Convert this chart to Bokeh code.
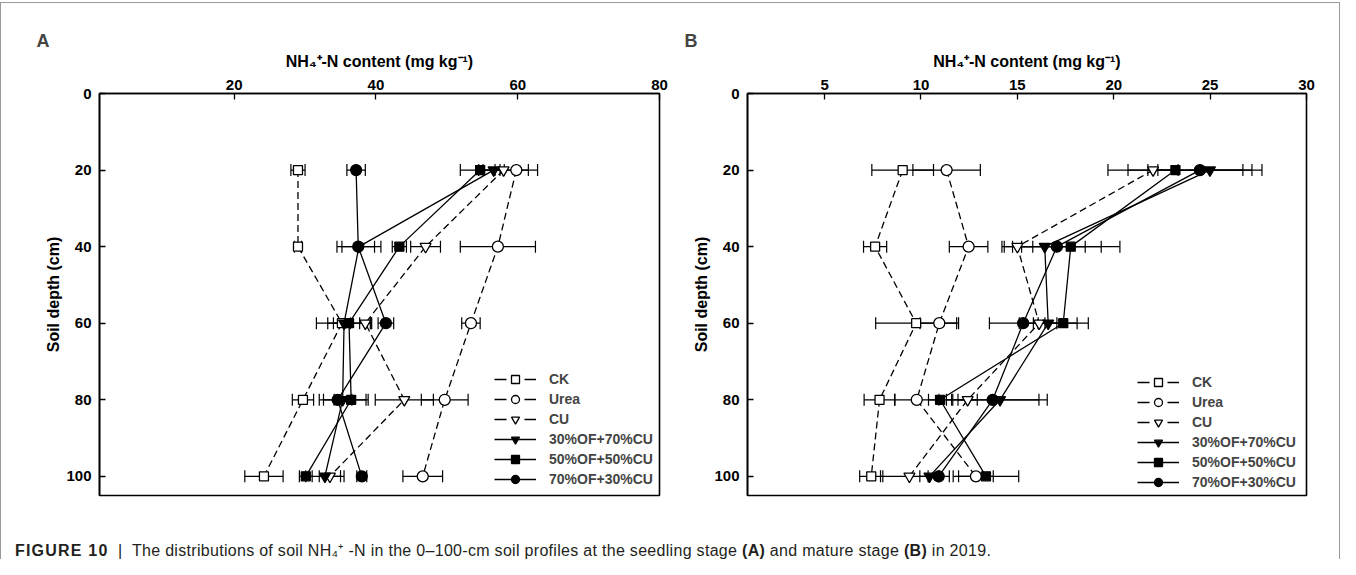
from bokeh.plotting import figure
from bokeh.models import (ColumnDataSource, Range1d, FixedTicker, Whisker, TeeHead,
                          Legend, LegendItem, Div)
from bokeh.layouts import row, column
from bokeh.embed import file_html
from bokeh.resources import INLINE

# ---------------- data ----------------
depths = [20, 40, 60, 80, 100]
series_names = ["CK", "Urea", "CU", "30%OF+70%CU", "50%OF+50%CU", "70%OF+30%CU"]

# Panel A: seedling stage
a_ck = [29.0, 29.0, 35.2, 29.7, 24.2]
a_ck_err = [1.0, 0.5, 1.2, 1.5, 2.7]
a_urea = [59.8, 57.2, 53.4, 49.7, 46.6]
a_urea_err = [3.0, 5.3, 1.3, 3.3, 2.8]
a_cu = [58.0, 47.0, 38.5, 44.0, 33.5]
a_cu_err = [3.5, 2.1, 0.8, 4.1, 1.5]
a_of30 = [56.6, 37.6, 35.5, 35.3, 32.8]
a_of30_err = [1.5, 3.1, 3.9, 3.3, 2.7]
a_of50 = [54.7, 43.3, 36.2, 36.5, 30.1]
a_of50_err = [2.8, 1.0, 3.0, 2.4, 0.9]
a_of70 = [37.2, 37.5, 41.4, 34.6, 38.0]
a_of70_err = [1.3, 2.3, 1.1, 2.0, 0.7]

# Panel B: mature stage
b_ck = [9.05, 7.62, 9.75, 7.85, 7.42]
b_ck_err = [1.6, 0.6, 2.1, 0.8, 0.6]
b_urea = [11.33, 12.47, 10.95, 9.78, 12.85]
b_urea_err = [1.75, 1.0, 1.0, 1.15, 0.9]
b_cu = [22.04, 15.0, 16.13, 12.42, 9.4]
b_cu_err = [1.3, 0.8, 0.3, 0.5, 1.5]
b_of30 = [24.99, 16.42, 16.6, 14.1, 10.44]
b_of30_err = [2.7, 2.1, 1.5, 2.45, 0.5]
b_of50 = [23.2, 17.77, 17.38, 10.99, 13.37]
b_of50_err = [3.5, 2.55, 1.3, 0.6, 1.7]
b_of70 = [24.47, 17.05, 15.3, 13.72, 10.92]
b_of70_err = [2.7, 2.3, 1.75, 2.4, 0.55]

a_ticks = [20, 40, 60, 80]
b_ticks = [5, 10, 15, 20, 25, 30]
depth_ticks = [0, 20, 40, 60, 80, 100]

x_title = "NH\u2084\u207A-N content (mg kg\u207B\u00B9)"
y_title = "Soil depth (cm)"

FONT = "Liberation Sans"
NAN = float("nan")
GRAY = "#9a9a9a"

styles = [
    dict(marker="square", fill="white", dash="7 4", size=9),
    dict(marker="circle", fill="white", dash="7 4", size=11),
    dict(marker="inverted_triangle", fill="white", dash="7 4", size=11),
    dict(marker="inverted_triangle", fill="black", dash="solid", size=11),
    dict(marker="square", fill="black", dash="solid", size=9),
    dict(marker="circle", fill="black", dash="solid", size=11),
]
legend_dash = ["12 18", "12 18", "12 18", "solid", "solid", "solid"]


def make_panel(vals, errs, xmax, xticks, width, bl, br, bt, bb, legend_loc, letter,
               letter_offset):
    p = figure(width=width, height=512, output_backend="svg", toolbar_location=None,
               x_range=Range1d(1, xmax), y_range=Range1d(105, 0),
               x_axis_location="above", min_border_left=bl, min_border_right=br,
               min_border_top=bt, min_border_bottom=bb)
    p.grid.visible = False
    p.outline_line_color = "black"
    p.outline_line_width = 1.6
    p.background_fill_color = "white"
    p.border_fill_color = "white"

    p.title.text = letter
    p.title.align = "left"
    p.title.offset = letter_offset
    p.title.text_font = FONT
    p.title.text_font_style = "bold"
    p.title.text_font_size = "18px"
    p.title.standoff = -3

    xa = p.xaxis[0]
    xa.ticker = FixedTicker(ticks=xticks)
    xa.axis_label = x_title
    ya = p.yaxis[0]
    ya.ticker = FixedTicker(ticks=depth_ticks)
    ya.axis_label = y_title
    for ax in (xa, ya):
        ax.axis_line_width = 1.6
        ax.major_tick_in = 6
        ax.major_tick_out = 0
        ax.major_tick_line_width = 1.3
        ax.minor_tick_line_color = None
        ax.major_label_text_font = FONT
        ax.major_label_text_font_style = "bold"
        ax.major_label_text_font_size = "15px"
        ax.major_label_text_color = "black"
        ax.axis_label_text_font = FONT
        ax.axis_label_text_font_style = "bold"
        ax.axis_label_text_font_size = "16px"
        ax.axis_label_text_color = "black"
    xa.major_label_standoff = 4
    xa.axis_label_standoff = 7
    ya.major_label_standoff = 8
    ya.axis_label_standoff = 1

    for v, e in zip(vals, errs):
        src = ColumnDataSource(dict(
            y=depths,
            lo=[a - b for a, b in zip(v, e)],
            hi=[a + b for a, b in zip(v, e)]))
        p.add_layout(Whisker(source=src, base="y", lower="lo", upper="hi",
                             dimension="width", line_color="black", line_width=1.2,
                             upper_head=TeeHead(size=12, line_color="black", line_width=1.2),
                             lower_head=TeeHead(size=12, line_color="black", line_width=1.2)))
    srcs = []
    for v, st in zip(vals, styles):
        src = ColumnDataSource(dict(x=v, y=depths))
        p.line("x", "y", source=src, line_color="black", line_width=1.3,
               line_dash=st["dash"])
        srcs.append(src)
    items = []
    for name, src, st, ld in zip(series_names, srcs, styles, legend_dash):
        p.scatter("x", "y", source=src, marker=st["marker"], size=st["size"],
                  fill_color=st["fill"], line_color="black", line_width=1.3)
        # key-only glyphs (not drawn in the plot) so the key can use its own dash
        key_src = ColumnDataSource(dict(x=[NAN], y=[NAN]))
        lk = p.line("x", "y", source=key_src, line_color="black", line_width=1.3,
                    line_dash=ld)
        mk = p.scatter("x", "y", source=key_src, marker=st["marker"], size=st["size"],
                       fill_color=st["fill"], line_color="black", line_width=1.3)
        items.append(LegendItem(label=name, renderers=[lk, mk], index=0))

    leg = Legend(items=items, location=legend_loc, border_line_color=None,
                 background_fill_alpha=0, label_text_font=FONT,
                 label_text_font_style="bold", label_text_font_size="14px",
                 glyph_width=42, glyph_height=20, label_height=20, label_standoff=13,
                 spacing=0, padding=0, margin=0)
    p.add_layout(leg)
    return p


pa = make_panel([a_ck, a_urea, a_cu, a_of30, a_of50, a_of70],
                [a_ck_err, a_urea_err, a_cu_err, a_of30_err, a_of50_err, a_of70_err],
                80, a_ticks, 682, 98, 24, 88, 20, (395, 6), "A", -63)
pb = make_panel([b_ck, b_urea, b_cu, b_of30, b_of50, b_of70],
                [b_ck_err, b_urea_err, b_cu_err, b_of30_err, b_of50_err, b_of70_err],
                30, b_ticks, 656, 64, 33, 90, 18, (390, 3), "B", -63)


def vbar(h):
    return Div(width=1, height=h, margin=0, styles={"background-color": GRAY})


top_line = Div(width=1340, height=1, margin=(2, 0, 0, 0),
               styles={"background-color": GRAY})

caption = Div(
    text=('<div style="padding-top:28px;padding-left:14px">'
          '<span style="font-weight:bold;letter-spacing:1.2px">FIGURE 10</span>'
          '&nbsp;&nbsp;|&nbsp;&nbsp;The distributions of soil NH\u2084\u207A -N in the '
          '0\u2013100-cm soil profiles at the seedling stage <b>(A)</b> and mature stage '
          '<b>(B)</b> in 2019.</div>'),
    width=1338, height=44, margin=0,
    styles={"font-family": "Liberation Sans, Arial, sans-serif", "font-size": "16px",
            "letter-spacing": "0.3px", "line-height": "16px", "color": "#231f20",
            "white-space": "nowrap", "overflow": "hidden"})

layout = column(top_line,
                row(vbar(512), pa, pb, vbar(512)),
                row(vbar(44), caption, vbar(44)))

open("out.html", "w").write(file_html(layout, INLINE))
